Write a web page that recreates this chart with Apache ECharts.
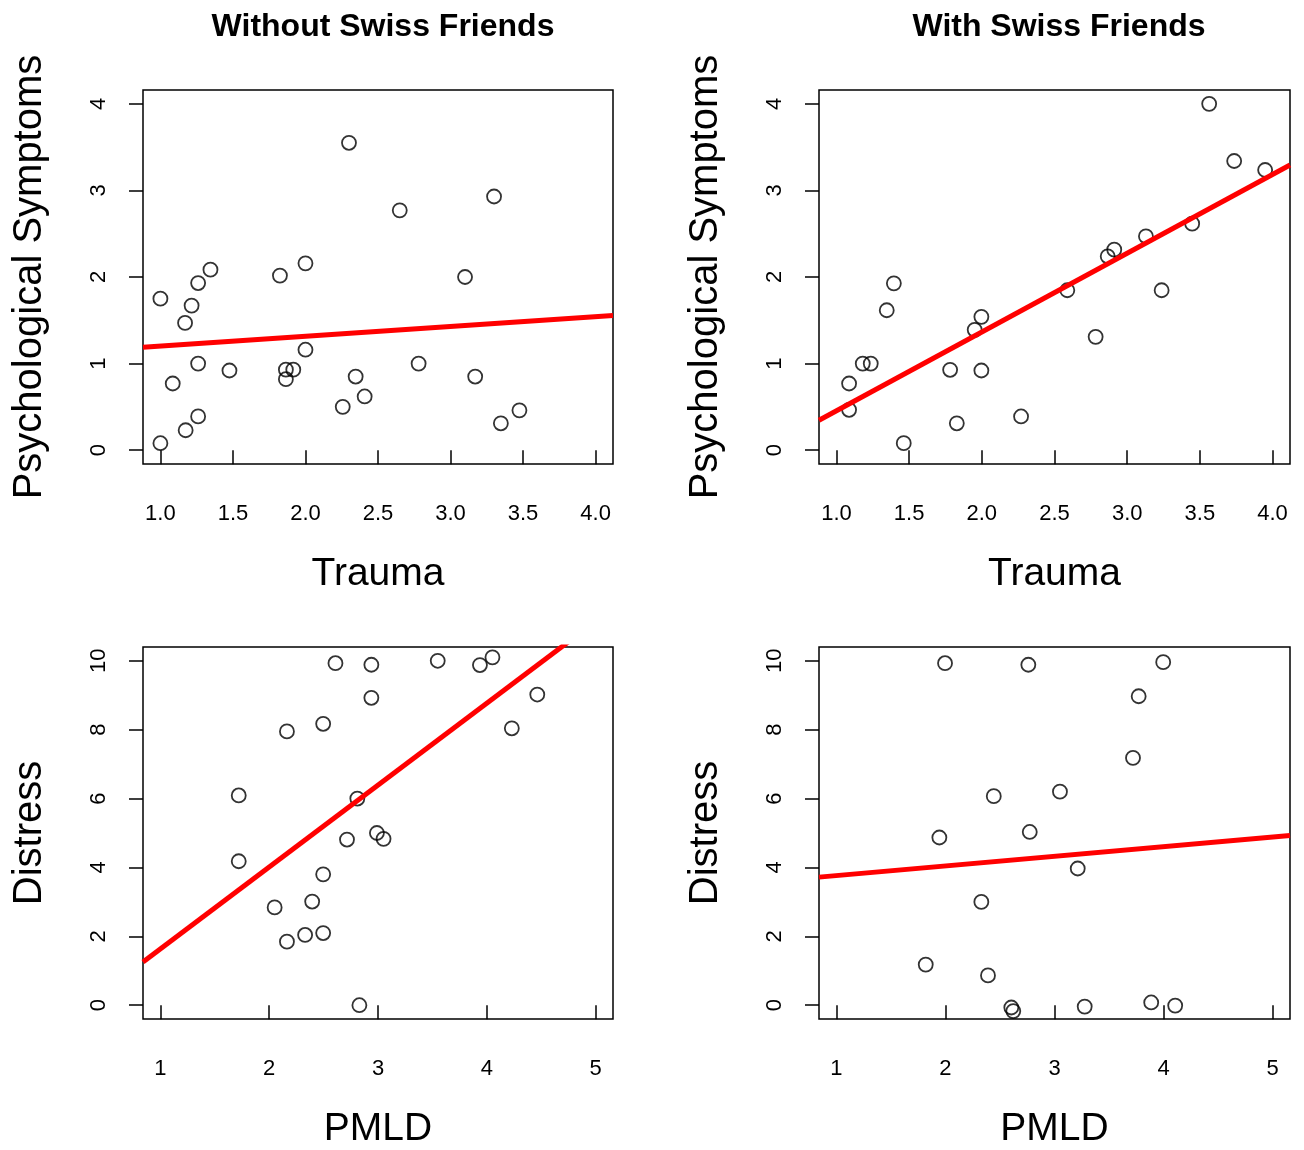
<!DOCTYPE html>
<html>
<head>
<meta charset="utf-8">
<script src="https://cdn.jsdelivr.net/npm/echarts@6/dist/echarts.min.js"></script>
<style>
html,body{margin:0;padding:0;background:#fff;}
#chart{width:1304px;height:1150px;}
</style>
</head>
<body>
<div id="chart"></div>
<script>
// ---- data ----
const panelTitles = ["Without Swiss Friends", "With Swiss Friends"];

const traumaWithout = [2.30,1.345,1.824,2.0,2.65,3.30,3.10,1.26,1.0,1.215,1.17,2.0,1.26,1.476,1.865,1.916,1.865,1.085,2.346,2.408,2.257,1.26,1.174,1.0,2.78,3.17,3.475,3.347];
const symptomsWithout = [3.55,2.085,2.016,2.158,2.77,2.93,2.0,1.93,1.75,1.67,1.47,1.16,1.0,0.92,0.93,0.93,0.82,0.77,0.85,0.62,0.50,0.39,0.23,0.08,1.0,0.85,0.46,0.31];

const traumaWith = [3.564,3.736,3.949,3.447,3.129,2.911,2.866,1.395,1.346,1.997,1.951,1.181,1.236,1.087,1.782,1.997,1.087,1.828,2.27,1.463,2.588,3.237,2.783];
const symptomsWith = [4.0,3.34,3.236,2.616,2.47,2.316,2.239,1.927,1.616,1.54,1.39,1.0,1.0,0.77,0.928,0.92,0.466,0.31,0.389,0.081,1.847,1.847,1.309];

const pmldWithout = [2.609,2.939,2.939,2.496,2.163,1.72,2.81,2.99,2.715,1.72,2.496,2.395,2.05,2.496,2.33,2.163,2.829,3.549,3.937,4.052,4.464,4.23,3.051];
const distressWithout = [9.93,9.885,8.925,8.17,7.95,6.09,6.0,5.0,4.81,4.18,3.8,3.01,2.84,2.095,2.04,1.845,0.0,10.0,9.876,10.1,9.02,8.04,4.83];

const pmldWith = [1.996,2.76,2.443,1.944,2.773,2.329,1.819,2.39,2.604,2.622,3.05,3.997,3.772,3.72,3.213,3.277,3.887,4.107];
const distressWith = [9.93,9.885,6.07,4.87,5.03,3.0,1.18,0.865,-0.066,-0.17,6.2,9.96,8.97,7.18,3.97,-0.04,0.08,-0.01];

// regression lines: [intercept, slope]
const fitTraumaWithout = [1.09, 0.113];
const fitTraumaWith = [-0.455, 0.910];
const fitPmldWithout = [-0.74, 2.377];
const fitPmldWith = [3.484, 0.28];

const traumaTicks = [1.0,1.5,2.0,2.5,3.0,3.5,4.0];
const symptomTicks = [0,1,2,3,4];
const pmldTicks = [1,2,3,4,5];
const distressTicks = [0,2,4,6,8,10];

// ---- layout ----
const FONT = "Liberation Sans, Arial, Helvetica, sans-serif";
const grids = [
  {left:143, top:90, width:470, height:374},
  {left:819, top:90, width:471, height:374},
  {left:143, top:647, width:470, height:374},
  {left:819, top:647, width:471, height:374}
];
const xRangeTop = [0.88, 4.12], yRangeTop = [-0.16, 4.16];
const xRangeBot = [0.84, 5.16], yRangeBot = [-0.4, 10.4];

function zip(a,b){ return a.map((v,i)=>[v,b[i]]); }
function fitLine(fit, xr){ return [[xr[0], fit[0]+fit[1]*xr[0]],[xr[1], fit[0]+fit[1]*xr[1]]]; }

function xAxis(i, range, ticks, name, fmt){
  return {
    type:'value', gridIndex:i, min:range[0], max:range[1],
    splitLine:{show:false},
    axisLine:{show:false},
    axisTick:{show:true, inside:false, length:14, customValues:ticks, lineStyle:{color:'#000', width:1.5}},
    axisLabel:{show:true, customValues:ticks, formatter:fmt, color:'#000', fontSize:22, fontFamily:FONT, margin:39},
    name:name, nameLocation:'middle', nameGap:91,
    nameTextStyle:{color:'#000', fontSize:39, fontFamily:FONT}
  };
}
function yAxis(i, range, ticks, name){
  return {
    type:'value', gridIndex:i, min:range[0], max:range[1],
    splitLine:{show:false},
    axisLine:{show:false},
    axisTick:{show:true, inside:false, length:14, customValues:ticks, lineStyle:{color:'#000', width:1.5}},
    axisLabel:{show:true, customValues:ticks, rotate:90, color:'#000', fontSize:22, fontFamily:FONT, margin:33},
    name:name, nameLocation:'middle', nameGap:93,
    nameTextStyle:{color:'#000', fontSize:40, fontFamily:FONT}
  };
}
function scatter(i, data){
  return {type:'scatter', xAxisIndex:i, yAxisIndex:i, data:data, symbol:'circle', symbolSize:14,
    itemStyle:{color:'rgba(0,0,0,0)', borderColor:'#000', borderWidth:1.8}, z:2, silent:true};
}
function line(i, data){
  return {type:'line', xAxisIndex:i, yAxisIndex:i, data:data, showSymbol:false, clip:true,
    lineStyle:{color:'#ff0000', width:5}, z:3, silent:true};
}

const fmt1 = v => v.toFixed(1);
const fmt0 = v => String(Math.round(v));

const option = {
  animation:false,
  backgroundColor:'#fff',
  title:[
    {text:panelTitles[0], left:378, top:6, textAlign:'center', textStyle:{fontSize:32, fontWeight:'bold', fontFamily:FONT, color:'#000'}},
    {text:panelTitles[1], left:1054, top:6, textAlign:'center', textStyle:{fontSize:32, fontWeight:'bold', fontFamily:FONT, color:'#000'}}
  ],
  grid: grids.map(g=>Object.assign({show:true, borderColor:'#000', borderWidth:1.5, backgroundColor:'rgba(0,0,0,0)', containLabel:false}, g)),
  xAxis:[
    xAxis(0, xRangeTop, traumaTicks, 'Trauma', fmt1),
    xAxis(1, xRangeTop, traumaTicks, 'Trauma', fmt1),
    xAxis(2, xRangeBot, pmldTicks, 'PMLD', fmt0),
    xAxis(3, xRangeBot, pmldTicks, 'PMLD', fmt0)
  ],
  yAxis:[
    yAxis(0, yRangeTop, symptomTicks, 'Psychological Symptoms'),
    yAxis(1, yRangeTop, symptomTicks, 'Psychological Symptoms'),
    yAxis(2, yRangeBot, distressTicks, 'Distress'),
    yAxis(3, yRangeBot, distressTicks, 'Distress')
  ],
  series:[
    scatter(0, zip(traumaWithout, symptomsWithout)),
    line(0, fitLine(fitTraumaWithout, xRangeTop)),
    scatter(1, zip(traumaWith, symptomsWith)),
    line(1, fitLine(fitTraumaWith, xRangeTop)),
    scatter(2, zip(pmldWithout, distressWithout)),
    line(2, fitLine(fitPmldWithout, xRangeBot)),
    scatter(3, zip(pmldWith, distressWith)),
    line(3, fitLine(fitPmldWith, xRangeBot))
  ]
};

const chart = echarts.init(document.getElementById('chart'), null, {renderer:'canvas'});
chart.setOption(option);
</script>
</body>
</html>
